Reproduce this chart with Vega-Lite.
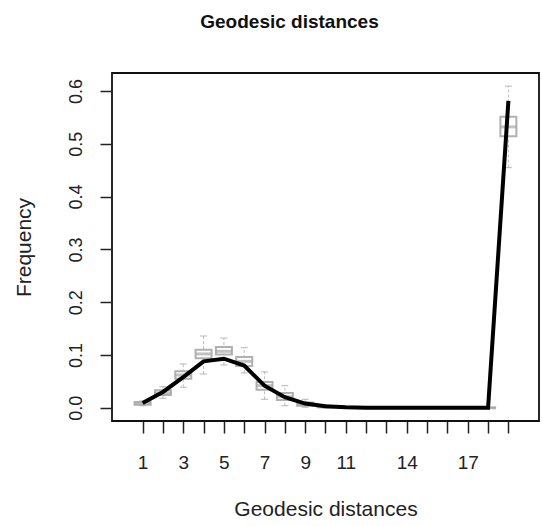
{
  "$schema": "https://vega.github.io/schema/vega-lite/v6.json",
  "autosize": {"type": "none"},
  "width": 427,
  "height": 348,
  "padding": {"left": 112, "top": 73, "right": 3, "bottom": 105},
  "background": "white",
  "config": {
    "view": {"stroke": "#111", "strokeWidth": 1.8},
    "font": "Liberation Sans",
    "axis": {"grid": false, "domain": false, "tickColor": "#222", "tickWidth": 1.5, "labelColor": "#222", "titleColor": "#222", "labelFont": "Liberation Sans", "titleFont": "Liberation Sans", "titleFontWeight": "normal"}
  },
  "title": {"text": "Geodesic distances", "fontSize": 19, "font": "Liberation Sans", "fontWeight": "bold", "color": "#111", "anchor": "middle", "dx": -36, "offset": 41},
  "data": {"values": [
    {"pos": 1, "obs": 0.009, "lo": 0.004, "q1": 0.006, "med": 0.008, "q3": 0.011, "hi": 0.013},
    {"pos": 2, "obs": 0.030, "lo": 0.018, "q1": 0.024, "med": 0.028, "q3": 0.033, "hi": 0.040},
    {"pos": 3, "obs": 0.058, "lo": 0.039, "q1": 0.055, "med": 0.062, "q3": 0.069, "hi": 0.083},
    {"pos": 4, "obs": 0.088, "lo": 0.064, "q1": 0.094, "med": 0.102, "q3": 0.110, "hi": 0.136},
    {"pos": 5, "obs": 0.093, "lo": 0.081, "q1": 0.101, "med": 0.107, "q3": 0.115, "hi": 0.132},
    {"pos": 6, "obs": 0.080, "lo": 0.066, "q1": 0.079, "med": 0.088, "q3": 0.096, "hi": 0.114},
    {"pos": 7, "obs": 0.042, "lo": 0.016, "q1": 0.034, "med": 0.042, "q3": 0.049, "hi": 0.068},
    {"pos": 8, "obs": 0.020, "lo": 0.004, "q1": 0.015, "med": 0.021, "q3": 0.028, "hi": 0.042},
    {"pos": 9, "obs": 0.008, "lo": 0.001, "q1": 0.004, "med": 0.007, "q3": 0.010, "hi": 0.016},
    {"pos": 10, "obs": 0.003, "lo": 0.0, "q1": 0.001, "med": 0.002, "q3": 0.003, "hi": 0.006},
    {"pos": 11, "obs": 0.001, "lo": 0.0, "q1": 0.0, "med": 0.001, "q3": 0.001, "hi": 0.002},
    {"pos": 12, "obs": 0.0, "lo": 0.0, "q1": 0.0, "med": 0.0, "q3": 0.0, "hi": 0.001},
    {"pos": 13, "obs": 0.0, "lo": 0.0, "q1": 0.0, "med": 0.0, "q3": 0.0, "hi": 0.0},
    {"pos": 14, "obs": 0.0, "lo": 0.0, "q1": 0.0, "med": 0.0, "q3": 0.0, "hi": 0.0},
    {"pos": 15, "obs": 0.0, "lo": 0.0, "q1": 0.0, "med": 0.0, "q3": 0.0, "hi": 0.0},
    {"pos": 16, "obs": 0.0, "lo": 0.0, "q1": 0.0, "med": 0.0, "q3": 0.0, "hi": 0.0},
    {"pos": 17, "obs": 0.0, "lo": 0.0, "q1": 0.0, "med": 0.0, "q3": 0.0, "hi": 0.0},
    {"pos": 18, "obs": 0.0, "lo": 0.0, "q1": 0.0, "med": 0.0, "q3": 0.0, "hi": 0.0},
    {"pos": 19, "obs": 0.581, "lo": 0.455, "q1": 0.514, "med": 0.532, "q3": 0.551, "hi": 0.609}
  ]},
  "encoding": {
    "x": {"field": "pos", "type": "quantitative",
      "scale": {"domain": [-0.26, 20.26], "nice": false, "zero": false},
      "axis": {"values": [1,2,3,4,5,6,7,8,9,10,11,12,13,14,15,16,17,18,19],
        "labelExpr": "indexof([1,3,5,7,9,11,14,17], datum.value) >= 0 ? datum.label : ''",
        "tickSize": 12, "labelFontSize": 19, "labelPadding": 20, "labelFlush": false, "labelOverlap": false,
        "title": "Geodesic distances", "titleFontSize": 21, "titlePadding": 26}}
  },
  "layer": [
    {"mark": {"type": "rule", "color": "#bebebe", "strokeWidth": 1, "strokeDash": [3, 2]},
     "encoding": {"y": {"field": "lo", "type": "quantitative",
        "scale": {"domain": [-0.025, 0.634], "nice": false, "zero": false},
        "axis": {"values": [0, 0.1, 0.2, 0.3, 0.4, 0.5, 0.6], "format": ".1f", "labelAngle": -90, "labelAlign": "center", "labelBaseline": "bottom", "tickSize": 12, "labelFontSize": 18, "labelPadding": 15, "title": "Frequency", "titleFontSize": 21, "titlePadding": 33}},
       "y2": {"field": "hi"}}},
    {"mark": {"type": "tick", "orient": "horizontal", "color": "#a8a8a8", "size": 7, "thickness": 1.2},
     "encoding": {"y": {"field": "hi", "type": "quantitative"}}},
    {"mark": {"type": "tick", "orient": "horizontal", "color": "#a8a8a8", "size": 7, "thickness": 1.2},
     "encoding": {"y": {"field": "lo", "type": "quantitative"}}},
    {"mark": {"type": "bar", "width": 16, "fill": "white", "stroke": "#b0b0b0", "strokeWidth": 2},
     "encoding": {"y": {"field": "q1", "type": "quantitative"}, "y2": {"field": "q3"}}},
    {"mark": {"type": "tick", "orient": "horizontal", "color": "#a8a8a8", "size": 16, "thickness": 3},
     "encoding": {"y": {"field": "med", "type": "quantitative"}}},
    {"mark": {"type": "line", "color": "black", "strokeWidth": 4},
     "encoding": {"y": {"field": "obs", "type": "quantitative"}}}
  ]
}
